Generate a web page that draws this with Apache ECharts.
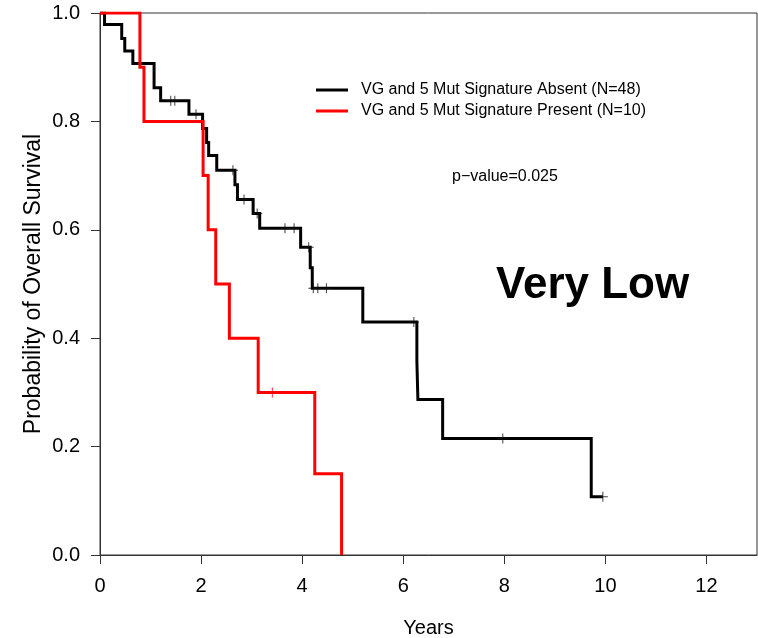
<!DOCTYPE html>
<html>
<head>
<meta charset="utf-8">
<script src="https://cdn.jsdelivr.net/npm/echarts@6/dist/echarts.min.js"></script>
<style>
  html, body { margin: 0; padding: 0; background: #fff; }
  #chart { width: 758px; height: 638px; }
</style>
</head>
<body>
<div id="chart"></div>
<script>
// Kaplan-Meier steps: time (years) at which the survival estimate drops, and the new level
const absentTimes = [0, 0.09, 0.43, 0.49, 0.65, 1.07, 1.2, 1.76, 2.03, 2.11, 2.15, 2.31, 2.67, 2.72, 3.03, 3.16, 3.97, 4.16, 4.2, 5.2, 6.27, 6.29, 6.78, 9.72, 9.95];
const absentSurv  = [1, 0.979, 0.953, 0.93, 0.907, 0.862, 0.838, 0.813, 0.787, 0.761, 0.737, 0.71, 0.683, 0.656, 0.63, 0.603, 0.568, 0.53, 0.492, 0.43, 0.358, 0.287, 0.215, 0.1075, 0.1075];
const absentCensored = [1.4, 1.48, 1.9, 2.63, 2.85, 3.11, 3.66, 3.84, 4.13, 4.22, 4.31, 4.48, 6.21, 7.97, 9.95];

const presentTimes = [0, 0.79, 0.87, 2.04, 2.14, 2.29, 2.56, 3.13, 4.25, 4.78];
const presentSurv  = [1, 0.9, 0.8, 0.7, 0.6, 0.5, 0.4, 0.3, 0.15, 0];
const presentCensored = [3.41];

const xTicks = [0, 2, 4, 6, 8, 10, 12];
const yTicks = [0, 0.2, 0.4, 0.6, 0.8, 1.0];

const seriesNames = ['VG and 5 Mut Signature Absent (N=48)', 'VG and 5 Mut Signature Present (N=10)'];
const pValueText = 'p\u2212value=0.025';
const groupText = 'Very Low';

const FONT = 'Liberation Sans, Arial, Helvetica, sans-serif';

function pairs(times, surv) {
  return times.map((t, i) => [t, surv[i]]);
}
// survival level in effect at time t (right-continuous step function)
function levelAt(times, surv, t) {
  let v = surv[0];
  for (let i = 0; i < times.length; i++) {
    if (times[i] <= t) v = surv[i];
  }
  return v;
}
function censorPoints(censored, times, surv) {
  return censored.map(t => [t, levelAt(times, surv, t)]);
}

// thin "+" mark for censored observations
const plusPath = 'path://M4.5,0H5.5V10H4.5Z M0,4.5H10V5.5H0Z';

const chart = echarts.init(document.getElementById('chart'), null, { renderer: 'canvas' });

chart.setOption({
  animation: false,
  backgroundColor: '#ffffff',
  grid: {
    left: 100, top: 13, right: 1, bottom: 83,
    outerBoundsMode: 'none', containLabel: false,
    show: true, borderColor: '#333', borderWidth: 1, backgroundColor: 'transparent'
  },
  legend: {
    left: 311, top: 77, orient: 'vertical',
    itemWidth: 32, itemHeight: 3, itemGap: 5,
    icon: 'rect',
    data: seriesNames,
    textStyle: { fontFamily: FONT, fontSize: 16, color: '#000', lineHeight: 16, padding: [0, 0, 0, 8] }
  },
  xAxis: {
    type: 'value', min: 0, max: 13, interval: 2,
    name: 'Years', nameLocation: 'middle', nameGap: 63, nameMoveOverlap: false,
    nameTextStyle: { fontFamily: FONT, fontSize: 20, color: '#000' },
    axisLine: { show: true, onZero: false, lineStyle: { color: '#333', width: 1 } },
    axisTick: { show: true, inside: false, length: 9, customValues: xTicks, lineStyle: { color: '#333' } },
    axisLabel: { margin: 21, customValues: xTicks, fontFamily: FONT, fontSize: 20, color: '#000' },
    splitLine: { show: false }
  },
  yAxis: {
    type: 'value', min: 0, max: 1, interval: 0.2,
    name: 'Probability of Overall Survival', nameLocation: 'middle', nameGap: 55, nameMoveOverlap: false,
    nameTextStyle: { fontFamily: FONT, fontSize: 23, color: '#000' },
    axisLine: { show: true, onZero: false, lineStyle: { color: '#333', width: 1 } },
    axisTick: { show: true, inside: false, length: 9, customValues: yTicks, lineStyle: { color: '#333' } },
    axisLabel: {
      margin: 20, customValues: yTicks, fontFamily: FONT, fontSize: 20, color: '#000',
      formatter: v => Number(v).toFixed(1)
    },
    splitLine: { show: false }
  },
  series: [
    {
      name: seriesNames[0], type: 'line', step: 'end',
      data: pairs(absentTimes, absentSurv),
      showSymbol: false, symbol: 'none',
      lineStyle: { color: '#000', width: 3, join: 'miter', cap: 'butt' },
      itemStyle: { color: '#000' }, z: 2
    },
    {
      name: seriesNames[1], type: 'line', step: 'end',
      data: pairs(presentTimes, presentSurv),
      showSymbol: false, symbol: 'none',
      lineStyle: { color: '#ff0000', width: 3, join: 'miter', cap: 'butt' },
      itemStyle: { color: '#ff0000' }, z: 3
    },
    {
      name: 'absent censored', type: 'scatter',
      data: censorPoints(absentCensored, absentTimes, absentSurv),
      symbol: plusPath, symbolSize: 10,
      itemStyle: { color: '#111' }, z: 4, silent: true
    },
    {
      name: 'present censored', type: 'scatter',
      data: censorPoints(presentCensored, presentTimes, presentSurv),
      symbol: plusPath, symbolSize: 10,
      itemStyle: { color: '#ff0000' }, z: 4, silent: true
    }
  ],
  graphic: [
    {
      type: 'text', left: 452, top: 169,
      style: { text: pValueText, fontFamily: FONT, fontSize: 16, fill: '#000' }
    },
    {
      type: 'text', left: 496, top: 264,
      style: { text: groupText, fontFamily: FONT, fontSize: 44, fontWeight: 'bold', fill: '#000' }
    }
  ]
});
</script>
</body>
</html>
